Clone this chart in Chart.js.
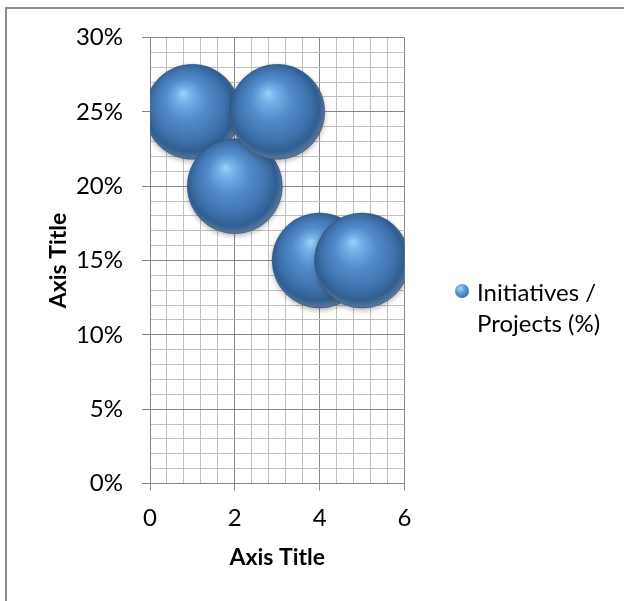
<!DOCTYPE html>
<html>
<head>
<meta charset="utf-8">
<script src="https://cdn.jsdelivr.net/npm/chart.js@4/dist/chart.umd.min.js"></script>
<style>
  html, body { margin: 0; padding: 0; background: #ffffff; }
  #wrap { position: relative; width: 624px; height: 601px; overflow: hidden; }
  #frame { position: absolute; left: 5px; top: 7px; right: -4px; bottom: -4px;
           border-left: 2px solid #8c8c8c; border-top: 2px solid #8c8c8c; }
  #chart { position: absolute; left: 0; top: 0; }
  #legend { position: absolute; left: 452px; top: 276px; font-family: Lato, "Open Sans", sans-serif;
            font-size: 24px; line-height: 31px; color: #000; }
  #legend .item { display: flex; align-items: flex-start; }
  #legend .dot { width: 14px; height: 14px; border-radius: 50%; margin: 8px 8px 0 3px; flex: none;
                 background: radial-gradient(circle at 38% 32%, #a6d6ff 0%, #5d97d6 40%, #3a6ca6 80%, #2b5580 100%); }
  #legend .text { width: 140px; }
</style>
</head>
<body>
<div id="wrap">
  <div id="frame"></div>
  <canvas id="chart" width="624" height="601"></canvas>
  <div id="legend"></div>
</div>
<script>
// Series: x position, share of initiatives / projects (percent) and bubble size
const seriesLabel = 'Initiatives / Projects (%)';
const xValues = [1, 2, 3, 4, 5];
const yValues = [25, 20, 25, 15, 15];
const bubbleSizes = [1, 1, 1, 1, 1];

// Labelled (major) ticks; unlabelled minor gridlines fall between them
const xMajorTicks = [0, 2, 4, 6];
const yMajorTicks = [0, 5, 10, 15, 20, 25, 30];

const MAX_RADIUS = 47.5;
const FONT = 'Lato, "Open Sans", sans-serif';
const MAJOR_GRID = '#878787';
const MINOR_GRID = '#c0c0c0';

const maxSize = Math.max(...bubbleSizes);
const points = xValues.map((x, i) => ({
  x: x,
  y: yValues[i],
  r: MAX_RADIUS * Math.sqrt(bubbleSizes[i] / maxSize)
}));

const isMajor = (list, v) => list.some(t => Math.abs(t - v) < 1e-6);

// Glossy sphere shading for each bubble
function sphereFill(ctx) {
  const chart = ctx.chart;
  const xs = chart.scales.x, ys = chart.scales.y;
  if (ctx.type !== 'data' || !ctx.parsed || !xs || !ys) return '#4f81bd';
  const cx = xs.getPixelForValue(ctx.parsed.x);
  const cy = ys.getPixelForValue(ctx.parsed.y);
  const r = ctx.raw.r;
  if (![cx, cy, r].every(Number.isFinite)) return '#4f81bd';
  const g = chart.ctx.createRadialGradient(cx - 0.2 * r, cy - 0.4 * r, 0, cx - 0.04 * r, cy - 0.06 * r, r * 1.04);
  g.addColorStop(0.00, '#9dd2fb');
  g.addColorStop(0.14, '#78b3ea');
  g.addColorStop(0.42, '#528bcb');
  g.addColorStop(0.72, '#4073ae');
  g.addColorStop(0.90, '#305e92');
  g.addColorStop(1.00, '#56779a');
  return g;
}

const sphereShadow = {
  id: 'sphereShadow',
  beforeDatasetDraw(chart) {
    const c = chart.ctx;
    c.save();
    c.shadowColor = 'rgba(60,60,60,0.35)';
    c.shadowBlur = 5;
    c.shadowOffsetY = 2;
  },
  afterDatasetDraw(chart) { chart.ctx.restore(); }
};

// Plot edges are set by layout padding alone, not by label overhang
const noOverhang = s => { s.paddingTop = 0; s.paddingBottom = 0; s.paddingLeft = 0; s.paddingRight = 0; };

const chart = new Chart(document.getElementById('chart'), {
  type: 'bubble',
  data: {
    datasets: [{
      label: seriesLabel,
      data: points,
      backgroundColor: sphereFill,
      borderColor: 'rgba(45,80,120,0.55)',
      borderWidth: 1,
      clip: 0
    }]
  },
  plugins: [sphereShadow],
  options: {
    responsive: false,
    devicePixelRatio: 1,
    animation: false,
    events: [],
    layout: { autoPadding: false, padding: { left: 45, top: 37.5, right: 219.5, bottom: 30 } },
    plugins: { legend: { display: false }, tooltip: { enabled: false } },
    scales: {
      x: {
        type: 'linear',
        min: 0, max: 6,
        ticks: {
          stepSize: 0.4, autoSkip: false, maxRotation: 0, padding: 13,
          color: '#000', font: { family: FONT, size: 24 },
          callback: v => isMajor(xMajorTicks, v) ? String(Math.round(v)) : ''
        },
        grid: {
          color: c => isMajor(xMajorTicks, c.tick.value) ? MAJOR_GRID : MINOR_GRID,
          tickColor: c => isMajor(xMajorTicks, c.tick.value) ? MAJOR_GRID : 'rgba(0,0,0,0)',
          tickLength: 7
        },
        border: { color: MAJOR_GRID },
        title: { display: true, text: 'Axis Title', color: '#000',
                 font: { family: FONT, size: 23, weight: 'bold', lineHeight: 1.2 },
                 padding: { top: 0, bottom: 0 } },
        afterFit: s => { s.height = 600.5 - 30 - 483; noOverhang(s); }
      },
      y: {
        type: 'linear',
        min: 0, max: 30,
        ticks: {
          stepSize: 1, autoSkip: false, padding: 19,
          color: '#000', font: { family: FONT, size: 24 },
          callback: v => isMajor(yMajorTicks, v) ? v + '%' : ''
        },
        grid: {
          color: c => isMajor(yMajorTicks, c.tick.value) ? MAJOR_GRID : MINOR_GRID,
          tickColor: c => isMajor(yMajorTicks, c.tick.value) ? MAJOR_GRID : 'rgba(0,0,0,0)',
          tickLength: 8
        },
        border: { color: MAJOR_GRID },
        title: { display: true, text: 'Axis Title', color: '#000',
                 font: { family: FONT, size: 23, weight: 'bold', lineHeight: 1.2 },
                 padding: { top: 0, bottom: 0 } },
        afterFit: s => { s.width = 105; noOverhang(s); }
      }
    }
  }
});

// Legend built from the chart's own dataset
const legend = document.getElementById('legend');
chart.data.datasets.forEach(ds => {
  const item = document.createElement('div');
  item.className = 'item';
  const dot = document.createElement('span');
  dot.className = 'dot';
  const txt = document.createElement('span');
  txt.className = 'text';
  txt.textContent = ds.label;
  item.appendChild(dot);
  item.appendChild(txt);
  legend.appendChild(item);
});
</script>
</body>
</html>
